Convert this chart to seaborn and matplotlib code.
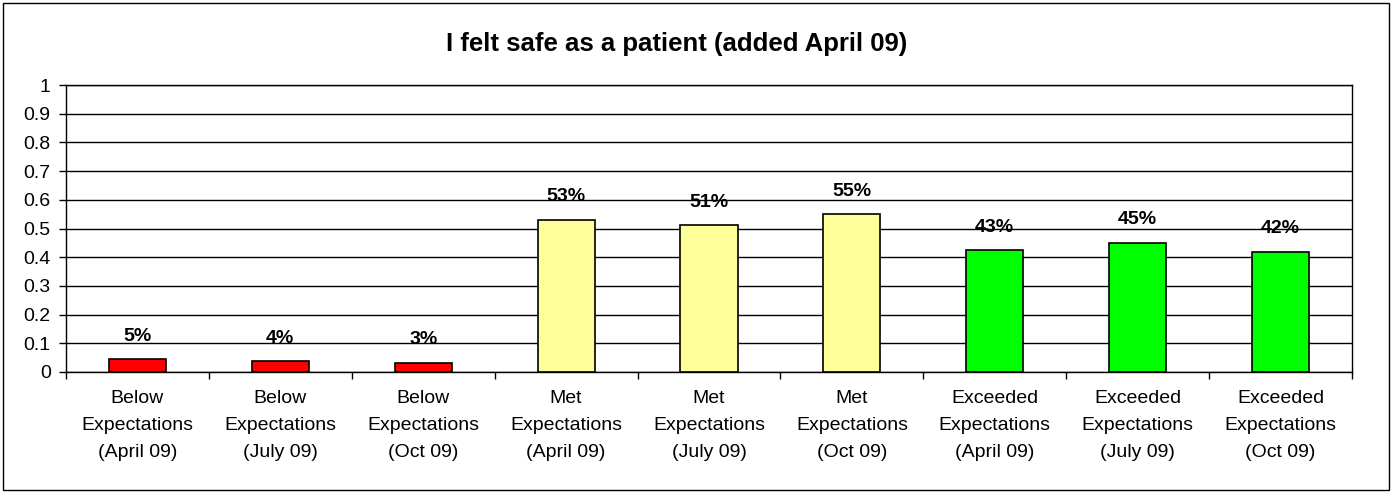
import seaborn as sns
import matplotlib.pyplot as plt
from matplotlib.patches import Rectangle
from matplotlib.ticker import FixedLocator

# data
categories = ['Below\nExpectations\n(April 09)', 'Below\nExpectations\n(July 09)', 'Below\nExpectations\n(Oct 09)',
              'Met\nExpectations\n(April 09)', 'Met\nExpectations\n(July 09)', 'Met\nExpectations\n(Oct 09)',
              'Exceeded\nExpectations\n(April 09)', 'Exceeded\nExpectations\n(July 09)', 'Exceeded\nExpectations\n(Oct 09)']
values = [0.045, 0.038, 0.032, 0.53, 0.512, 0.55, 0.425, 0.45, 0.419]
value_labels = ['5%', '4%', '3%', '53%', '51%', '55%', '43%', '45%', '42%']
bar_colors = ['#FF0000'] * 3 + ['#FFFF99'] * 3 + ['#00FF00'] * 3
y_ticks = [0, 0.1, 0.2, 0.3, 0.4, 0.5, 0.6, 0.7, 0.8, 0.9, 1]

sns.set_style('white')
plt.rcParams['font.family'] = ['Liberation Sans', 'DejaVu Sans']
plt.rcParams['text.color'] = 'black'
plt.rcParams['xtick.color'] = 'black'
plt.rcParams['ytick.color'] = 'black'

fig = plt.figure(figsize=(13.94, 4.93), dpi=100)
ax = fig.add_axes([66 / 1394, 1 - 372 / 493, (1352 - 66) / 1394, (372 - 85) / 493])

sns.barplot(x=categories, y=values, hue=categories, palette=bar_colors, legend=False,
            edgecolor='black', linewidth=1.2, width=0.4, saturation=1, ax=ax)

# value labels above the bars
for i, (v, lab) in enumerate(zip(values, value_labels)):
    ax.annotate(lab, (i, v), xytext=(0, 23), textcoords='offset pixels',
                ha='center', va='center', fontsize=14, fontweight='bold', color='black')

ax.set_ylim(0, 1)
ax.set_xlim(-0.5, len(categories) - 0.5)
ax.set_yticks(y_ticks)
ax.set_yticklabels(['0' if t == 0 else ('1' if t == 1 else f'{t:g}') for t in y_ticks])
ax.yaxis.grid(True, color='black', linewidth=1)
ax.set_axisbelow(True)

ax.tick_params(axis='x', which='major', length=0, labelsize=14, pad=13)
ax.xaxis.set_minor_locator(FixedLocator([i - 0.5 for i in range(len(categories) + 1)]))
ax.tick_params(axis='x', which='minor', length=5, width=1, color='black', direction='out', bottom=True)
ax.tick_params(axis='y', length=5, width=1, color='black', direction='out', left=True,
               labelsize=14, pad=6)
for lab in ax.get_xticklabels():
    lab.set_linespacing(1.75)

for side in ['left', 'bottom', 'right', 'top']:
    ax.spines[side].set_visible(True)
    ax.spines[side].set_color('black')
    ax.spines[side].set_linewidth(1)

fig.text(677 / 1394, 1 - 44 / 493, 'I felt safe as a patient (added April 09)',
         ha='center', va='center', fontsize=18.5, fontweight='bold', color='black')

fig.patches.append(Rectangle((3 / 1394, 3 / 493), 1386 / 1394, 487 / 493,
                             transform=fig.transFigure, fill=False, edgecolor='black', linewidth=1))

fig.savefig('out.png', dpi=100)
